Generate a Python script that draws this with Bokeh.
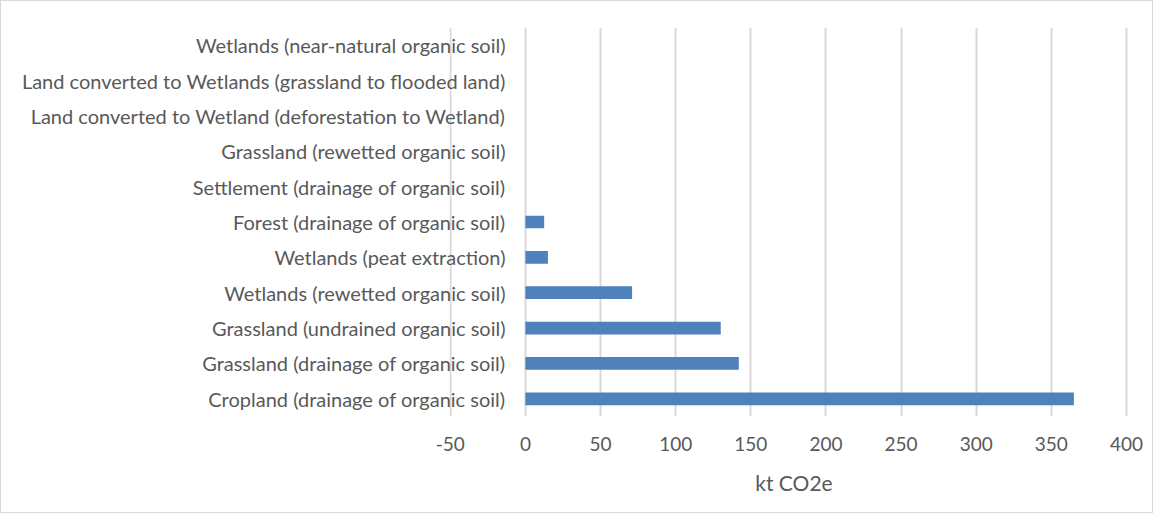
from bokeh.plotting import figure
from bokeh.models import Range1d, FactorRange, FixedTicker, ColumnDataSource
from bokeh.embed import file_html
from bokeh.resources import INLINE

categories = [
    "Cropland (drainage of organic soil)",
    "Grassland (drainage of organic soil)",
    "Grassland (undrained organic soil)",
    "Wetlands (rewetted organic soil)",
    "Wetlands (peat extraction)",
    "Forest (drainage of organic soil)",
    "Settlement (drainage of organic soil)",
    "Grassland (rewetted organic soil)",
    "Land converted to Wetland (deforestation to Wetland)",
    "Land converted to Wetlands (grassland to flooded land)",
    "Wetlands (near-natural organic soil)",
]
values = [365, 142, 130, 71, 15, 12.5, 0, 0, 0, 0, 0]
x_ticks = [-50, 0, 50, 100, 150, 200, 250, 300, 350, 400]
x_tick_labels = ["-50", "0", "50", "100", "150", "200", "250", "300", "350", "400"]
x_title = "kt CO2e"

FONT = "Lato"
TXT = "#595959"

src = ColumnDataSource(dict(cat=categories, val=values, base=[0] * len(values)))

p = figure(
    width=1153, height=513,
    y_range=FactorRange(factors=categories, range_padding=0),
    x_range=Range1d(-50.5, 408),
    output_backend="svg", toolbar_location=None,
    min_border_left=448, min_border_right=16, min_border_top=26, min_border_bottom=98,
)
p.styles = {"border": "1px solid #d9d9d9", "box-sizing": "border-box"}
p.outline_line_color = None
p.background_fill_color = "white"

p.hbar(y="cat", right="val", left="base", height=0.36, source=src,
       fill_color="#4F81BD", line_color=None)

# category labels sit just left of the zero line, over the negative area
p.yaxis.axis_line_color = None
p.yaxis.major_tick_line_color = None
p.yaxis.major_tick_in = 0
p.yaxis.major_tick_out = 0
p.yaxis.major_label_standoff = -56
p.yaxis.major_label_text_font = FONT
p.yaxis.major_label_text_font_size = "20px"
p.yaxis.major_label_text_color = TXT
p.ygrid.visible = False

p.xaxis.ticker = FixedTicker(ticks=x_ticks)
p.xaxis.major_label_overrides = {t: s for t, s in zip(x_ticks, x_tick_labels)}
p.xaxis.axis_line_color = None
p.xaxis.major_tick_line_color = None
p.xaxis.minor_tick_line_color = None
p.xaxis.major_tick_in = 0
p.xaxis.major_tick_out = 0
p.xaxis.major_label_standoff = 20
p.xaxis.major_label_text_font = FONT
p.xaxis.major_label_text_font_size = "19px"
p.xaxis.major_label_text_color = TXT
p.xaxis.axis_label = x_title
p.xaxis.axis_label_standoff = 16
p.xaxis.axis_label_text_font = FONT
p.xaxis.axis_label_text_font_size = "21px"
p.xaxis.axis_label_text_font_style = "normal"
p.xaxis.axis_label_text_color = TXT

p.xgrid.ticker = FixedTicker(ticks=x_ticks)
p.xgrid.grid_line_color = "#d9d9d9"
p.xgrid.grid_line_width = 2

open("out.html", "w").write(file_html(p, INLINE))
